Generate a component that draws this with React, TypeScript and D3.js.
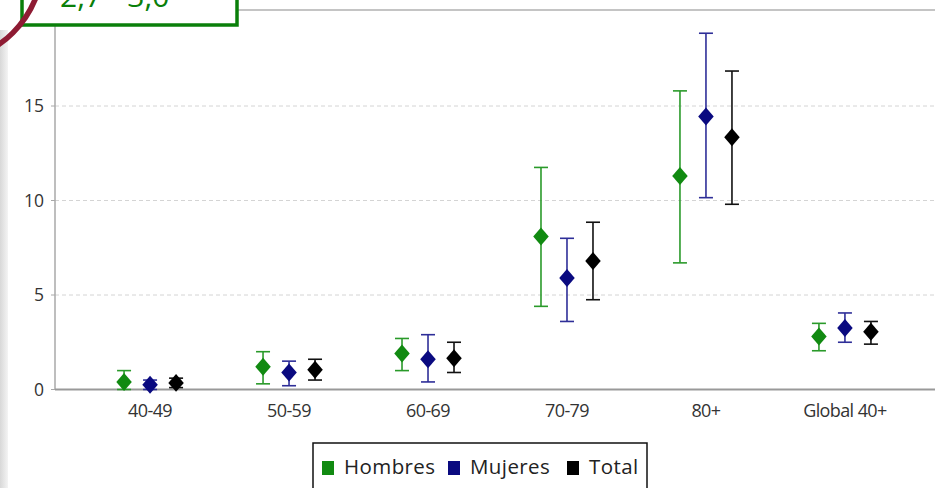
import * as d3 from "d3";

const categories = ["40-49", "50-59", "60-69", "70-79", "80+", "Global 40+"];
const seriesNames = ["Hombres", "Mujeres", "Total"];

const hombres = [0.4, 1.2, 1.9, 8.1, 11.3, 2.8];
const hombresLow = [0.0, 0.3, 1.0, 4.4, 6.7, 2.05];
const hombresHigh = [1.0, 2.0, 2.7, 11.75, 15.8, 3.5];

const mujeres = [0.25, 0.9, 1.6, 5.9, 14.45, 3.25];
const mujeresLow = [0.0, 0.2, 0.4, 3.6, 10.15, 2.5];
const mujeresHigh = [0.5, 1.5, 2.9, 8.0, 18.85, 4.05];

const total = [0.35, 1.05, 1.65, 6.8, 13.35, 3.05];
const totalLow = [0.1, 0.5, 0.9, 4.75, 9.8, 2.4];
const totalHigh = [0.6, 1.6, 2.5, 8.85, 16.85, 3.6];

const yTicks = [0, 5, 10, 15];

const COLORS: Record<string, { mark: string; bar: string }> = {
  Hombres: { mark: "#118a11", bar: "#2a9a2a" },
  Mujeres: { mark: "#0a0a80", bar: "#2e2e98" },
  Total: { mark: "#000000", bar: "#111111" },
};

const W = 935;
const H = 488;
const FONT = "'Open Sans', 'DejaVu Sans', sans-serif";

export default function App() {
  const left = 55;
  const bottom = 389.5;

  const x = d3.scalePoint<string>().domain(categories).range([left, 940]).padding(0.684);
  const offset = d3.scalePoint<string>().domain(seriesNames).range([-26, 26]);
  const y = d3.scaleLinear().domain([0, 20]).range([bottom, 11.5]);

  const series = [
    { name: "Hombres", mid: hombres, low: hombresLow, high: hombresHigh },
    { name: "Mujeres", mid: mujeres, low: mujeresLow, high: mujeresHigh },
    { name: "Total", mid: total, low: totalLow, high: totalHigh },
  ];

  const diamond = d3.symbol().type(d3.symbolDiamond2).size(170)();
  const legendX = [322, 448, 567];

  return (
    <svg
      width={W}
      height={H}
      style={{ position: "absolute", left: 0, top: 0, background: "#fff" }}
      fontFamily={FONT}
    >
      <defs>
        <linearGradient id="edge" x1="0" x2="1" y1="0" y2="0">
          <stop offset="0" stopColor="#d8d8d8" />
          <stop offset="1" stopColor="#f4f4f4" />
        </linearGradient>
      </defs>
      <rect x={0} y={30} width={8} height={H - 30} fill="url(#edge)" />

      {/* grid */}
      {yTicks.filter((t) => t > 0).map((t) => (
        <line key={t} x1={left} x2={W} y1={y(t)} y2={y(t)} stroke="#d4d4d4" strokeDasharray="4,3" />
      ))}
      <line x1={left} x2={W} y1={10} y2={10} stroke="#c4c4c4" strokeWidth={2} />

      {/* y axis */}
      <line x1={left} x2={left} y1={10} y2={bottom} stroke="#a8a8a8" strokeWidth={1.5} />
      {yTicks.map((t) => (
        <g key={t} transform={`translate(0,${y(t)})`}>
          <line x1={left - 4} x2={left} stroke="#a8a8a8" />
          <text x={44} dy="0.35em" textAnchor="end" fontSize={17.5} fill="#333">{t}</text>
        </g>
      ))}

      {/* x axis */}
      <line x1={left} x2={W} y1={bottom} y2={bottom} stroke="#999" strokeWidth={2} />
      {categories.map((c) => (
        <text key={c} x={x(c)} y={417} textAnchor="middle" fontSize={18} fill="#333" letterSpacing={-0.6}>{c}</text>
      ))}

      {/* error bars and points */}
      {series.map((s) => (
        <g key={s.name}>
          {categories.map((c, i) => {
            const cx = (x(c) ?? 0) + (offset(s.name) ?? 0);
            const col = COLORS[s.name];
            return (
              <g key={c}>
                <line x1={cx} x2={cx} y1={y(s.low[i])} y2={y(s.high[i])} stroke={col.bar} strokeWidth={1.6} />
                <line x1={cx - 7} x2={cx + 7} y1={y(s.low[i])} y2={y(s.low[i])} stroke={col.bar} strokeWidth={1.6} />
                <line x1={cx - 7} x2={cx + 7} y1={y(s.high[i])} y2={y(s.high[i])} stroke={col.bar} strokeWidth={1.6} />
                <path d={diamond ?? ""} transform={`translate(${cx},${y(s.mid[i])}) scale(0.95,1.1)`} fill={col.mark} />
              </g>
            );
          })}
        </g>
      ))}

      {/* legend */}
      <rect x={313} y={443} width={334} height={60} fill="#fff" stroke="#111" strokeWidth={1.5} />
      {seriesNames.map((n, i) => (
        <g key={n}>
          <rect x={legendX[i]} y={461} width={12} height={14} fill={COLORS[n].mark} />
          <text x={legendX[i] + 22} y={474} fontSize={20.5} fill="#222" letterSpacing={0.4}>{n}</text>
        </g>
      ))}

      {/* annotation box at top left */}
      <rect x={22} y={-40} width={215} height={65} fill="#fff" stroke="#0a7f0a" strokeWidth={3.5} />
      <text x={60} y={7} fontSize={30} fill="#0a7f0a">2,7 - 3,0</text>
      <circle cx={-60} cy={-40} r={103} fill="none" stroke="#8e1b33" strokeWidth={5.5} />
    </svg>
  );
}
